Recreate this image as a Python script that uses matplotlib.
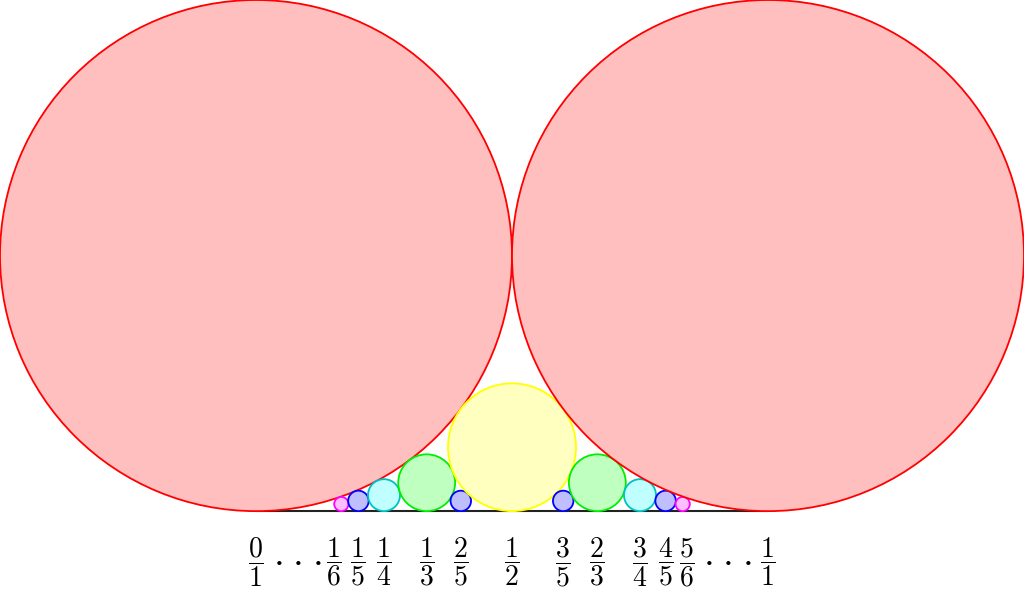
import matplotlib
matplotlib.use("Agg")
import matplotlib.pyplot as plt
from matplotlib.patches import Circle

plt.rcParams['mathtext.fontset'] = 'cm'

numerators = [0, 1, 1, 1, 1, 2, 1, 3, 2, 3, 4, 5, 1]
denominators = [1, 6, 5, 4, 3, 5, 2, 5, 3, 4, 5, 6, 1]
denom_colors = {1: '#ff0000', 2: '#ffff00', 3: '#00ee00', 4: '#00c0c0', 5: '#0000ff', 6: '#ff00ff'}
fill_colors = {1: '#ffbfbf', 2: '#ffffbf', 3: '#bfffbf', 4: '#bfffff', 5: '#bfbfff', 6: '#ffbfff'}

fig = plt.figure(figsize=(10.24, 5.9), dpi=100)
ax = fig.add_axes([0, 0, 1, 1])
ax.set_xlim(-0.5, 1.5)
ax.set_ylim(-0.1543, 1.0)
ax.axis('off')

# baseline
ax.plot([0, 1], [0, 0], color='#222222', lw=1.5, zorder=1, solid_capstyle='butt')

for p, q in zip(numerators, denominators):
    x = p / q
    r = 1 / (2 * q * q)
    c = Circle((x, r), r, facecolor=fill_colors[q], edgecolor=denom_colors[q], lw=1.3, zorder=2)
    ax.add_patch(c)
    # small nudge for the crowded labels next to the ellipses
    nudge = -0.015 if (p, q) == (1, 6) else (0.008 if (p, q) == (5, 6) else 0.0)
    ax.text(x + nudge, -0.099, r'$\dfrac{%d}{%d}$' % (p, q), ha='center', va='center', fontsize=20, zorder=3)

# ellipses (\cdots) between 0/1 and 1/6, and between 5/6 and 1/1
for k in range(3):
    dx = 0.0424 + k * 0.0381
    for xd in (dx, 1 - dx):
        ax.text(xd, -0.0959, r'$\cdot$', ha='center', va='center', fontsize=28)

fig.savefig('out.png', dpi=100)
